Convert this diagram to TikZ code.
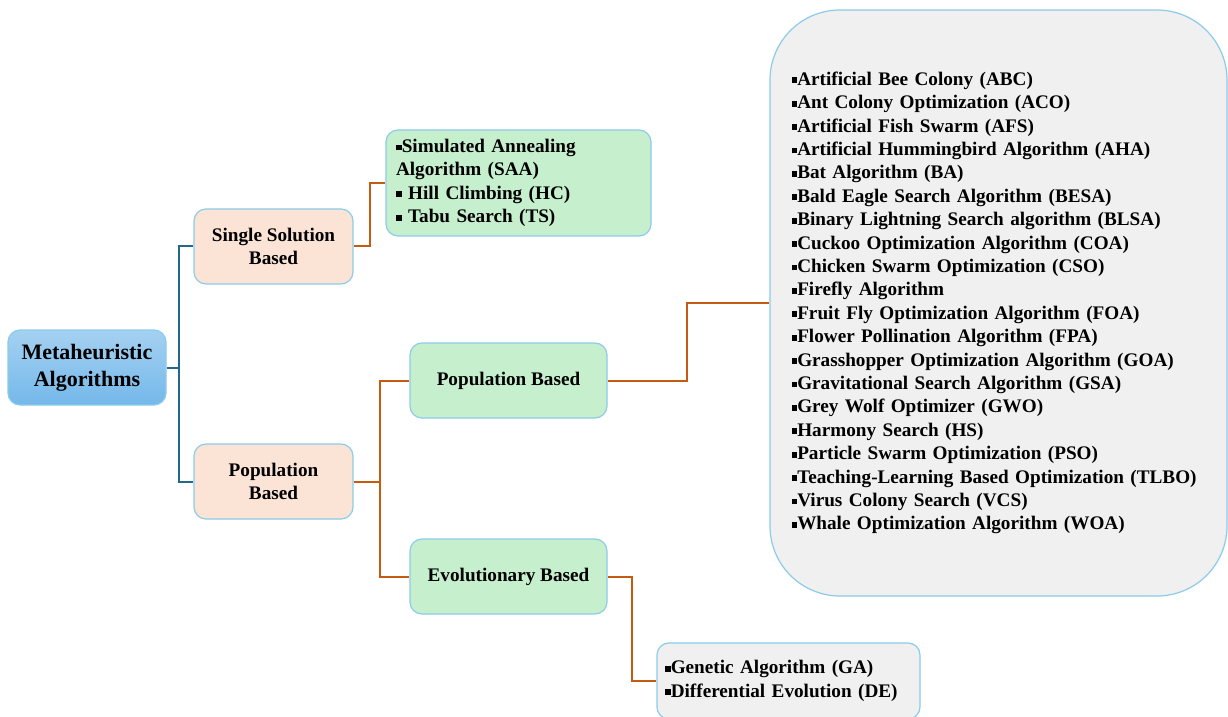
\documentclass[tikz,border=0pt]{standalone}
\usepackage{fontspec}
\setmainfont{Liberation Serif}
\usetikzlibrary{positioning}
\definecolor{edgeblue}{HTML}{8CCBEA}
\definecolor{rootfill}{HTML}{74B8EA}
\definecolor{peach}{HTML}{FBE4D6}
\definecolor{mint}{HTML}{C6EFCE}
\definecolor{pale}{HTML}{F0F0F0}
\definecolor{treeblue}{HTML}{22698C}
\definecolor{treeorange}{HTML}{C55A11}
\newcommand{\sqb}{\raisebox{0.25ex}{\rule{0.3em}{0.3em}}}
\tikzstyle{box}=[draw=edgeblue,line width=0.6pt,rounded corners=6pt,inner sep=0pt,font=\bfseries\fontsize{9.6}{11.7}\selectfont]
\tikzstyle{rootbox}=[box,top color=rootfill!65!white,bottom color=rootfill,align=center,font=\bfseries\fontsize{11}{13.5}\selectfont]
\tikzstyle{catbox}=[box,fill=peach,align=center,minimum width=79.5pt,minimum height=37.5pt]
\tikzstyle{subbox}=[box,fill=mint,align=center,minimum width=98.5pt,minimum height=37.5pt]
\tikzstyle{listbox}=[box,align=left]
\tikzstyle{link}=[line width=1pt]

\begin{document}
\begin{tikzpicture}[x=0.5pt,y=-0.5pt]
\useasboundingbox (0,0) rectangle (1228,717);
% root and first level
\node [rootbox,minimum width=79pt,minimum height=37.5pt] (meta) at (87,367.5) {Metaheuristic\\Algorithms};
\node [catbox] (single) at (273.5,246.5) {Single Solution\\Based};
\node [catbox] (popl) at (273.5,481.5) {Population\\Based};
% second level
\node [listbox,fill=mint,text width=122.5pt,inner xsep=5pt,minimum height=53pt] (saa) at (518.5,183)
  {\sqb Simulated Annealing\\Algorithm (SAA)\\\sqb\ Hill Climbing (HC)\\\sqb\ Tabu Search (TS)};
\node [subbox] (popm) at (508.5,380.5) {Population Based};
\node [subbox] (evo) at (508.5,576.5) {Evolutionary Based};
% algorithm lists
\node [listbox,fill=pale,rounded corners=35pt,text width=207pt,inner xsep=10.75pt,minimum height=293pt] (list) at (998.5,303)
  {\sqb Artificial Bee Colony (ABC)\\
   \sqb Ant Colony Optimization (ACO)\\
   \sqb Artificial Fish Swarm (AFS)\\
   \sqb Artificial Hummingbird Algorithm (AHA)\\
   \sqb Bat Algorithm (BA)\\
   \sqb Bald Eagle Search Algorithm (BESA)\\
   \sqb Binary Lightning Search algorithm (BLSA)\\
   \sqb Cuckoo Optimization Algorithm (COA)\\
   \sqb Chicken Swarm Optimization (CSO)\\
   \sqb Firefly Algorithm\\
   \sqb Fruit Fly Optimization Algorithm (FOA)\\
   \sqb Flower Pollination Algorithm (FPA)\\
   \sqb Grasshopper Optimization Algorithm (GOA)\\
   \sqb Gravitational Search Algorithm (GSA)\\
   \sqb Grey Wolf Optimizer (GWO)\\
   \sqb Harmony Search (HS)\\
   \sqb Particle Swarm Optimization (PSO)\\
   \sqb Teaching-Learning Based Optimization (TLBO)\\
   \sqb Virus Colony Search (VCS)\\
   \sqb Whale Optimization Algorithm (WOA)};
\node [listbox,fill=pale,text width=123.5pt,inner xsep=4pt,minimum height=38pt] (ga) at (788.5,681)
  {\sqb Genetic Algorithm (GA)\\\sqb Differential Evolution (DE)};
% connectors
\coordinate (j1) at (179,367.5);
\coordinate (j2) at (370,246.5);
\coordinate (j3) at (380,481.5);
\coordinate (j4) at (687,380.5);
\coordinate (j5) at (632,576.5);
\draw [link,treeblue] (meta.east) -- (j1) |- (single.west);
\draw [link,treeblue] (j1) |- (popl.west);
\draw [link,treeorange] (single.east) -- (j2) |- (saa.west);
\draw [link,treeorange] (popl.east) -- (j3) |- (popm.west);
\draw [link,treeorange] (j3) |- (evo.west);
\draw [link,treeorange] (popm.east) -- (j4) |- (list.west);
\draw [link,treeorange] (evo.east) -- (j5) |- (ga.west);
\end{tikzpicture}
\end{document}
